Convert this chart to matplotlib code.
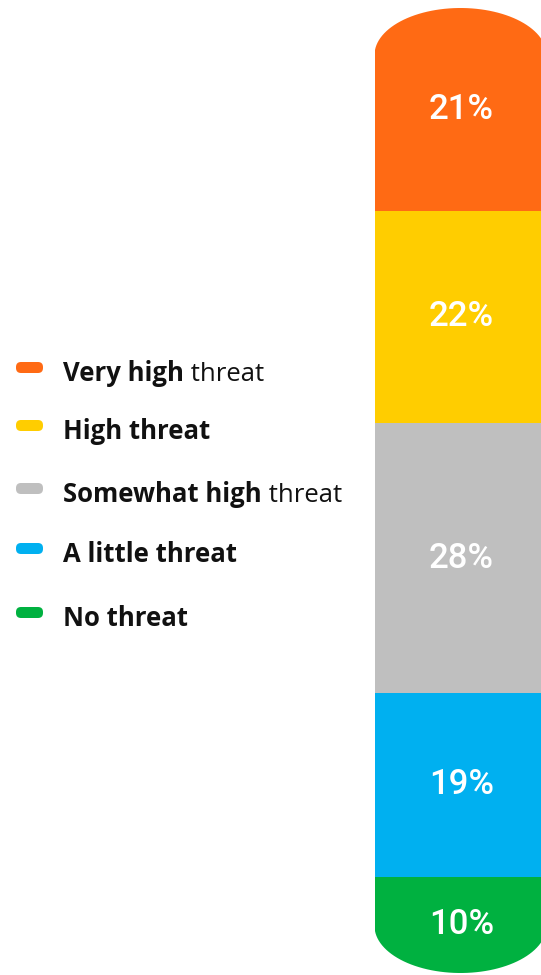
import numpy as np
import matplotlib
matplotlib.use("Agg")
import matplotlib.pyplot as plt
from matplotlib.patches import FancyBboxPatch, PathPatch
from matplotlib.path import Path

# data (top of the bar to bottom)
bold_parts = ["Very high", "High threat", "Somewhat high", "A little threat", "No threat"]
light_parts = [" threat", "", " threat", "", ""]
values = [21, 22, 28, 19, 10]
colors = ["#FF6A14", "#FFCD00", "#BFBFBF", "#00B0F0", "#00B140"]

W, H = 541, 975
fig = plt.figure(figsize=(W / 100, H / 100), dpi=100)

# bar axes: x in pixels, y in percent (0 at bottom, 100 at top)
ax = fig.add_axes([0, 0, 1, 1])
px = 100 / 965
ax.set_xlim(0, W)
ax.set_ylim(-2 * px, 100 + 8 * px)
ax.axis("off")

x_left, bar_w = 374.5, 172
xc = x_left + bar_w / 2

# capsule outline with elliptical ends, used to clip the stacked bars
rx = bar_w / 2
ry = 47 * px
th = np.linspace(0, np.pi, 60)
top = np.column_stack([xc + rx * np.cos(th), 100 - ry + ry * np.sin(th)])
bot = np.column_stack([xc - rx * np.cos(th), ry - ry * np.sin(th)])
verts = np.vstack([top, bot, top[:1]])
shape = PathPatch(Path(verts, closed=True), facecolor="none", edgecolor="none")
ax.add_patch(shape)

vals = np.array(values[::-1])
cols = colors[::-1]
bottoms = np.concatenate([[0], np.cumsum(vals)[:-1]])
bars = ax.bar([xc] * len(vals), vals, bottom=bottoms, width=bar_w,
              color=cols, linewidth=0)
for b in bars:
    b.set_clip_path(shape)

for v, b0 in zip(vals, bottoms):
    ax.text(xc + 1, b0 + v / 2, "%d%%" % v, color="white", fontsize=25,
            fontweight="medium", family="Roboto", ha="center", va="center")

# legend axes in pixel coords
lax = fig.add_axes([0, 0, 1, 1])
lax.set_xlim(0, W)
lax.set_ylim(H, 0)
lax.axis("off")

row_y = [372, 430, 493, 553, 617]
renderer = fig.canvas.get_renderer()
for bp, lp, c, y in zip(bold_parts, light_parts, colors, row_y):
    lax.add_patch(FancyBboxPatch((16, y - 10), 27, 11,
                                 boxstyle="round,pad=0,rounding_size=5",
                                 facecolor=c, edgecolor="none"))
    t = lax.text(63, y + 9, bp, fontsize=18.5, fontweight="bold",
                 family="Open Sans", color="#111111", va="baseline", ha="left")
    if lp:
        ext = t.get_window_extent(renderer)
        x1 = lax.transData.inverted().transform((ext.x1, ext.y0))[0]
        lax.text(x1, y + 9, lp, fontsize=18.5, family="Open Sans",
                 color="#111111", va="baseline", ha="left")

fig.savefig("out.png", dpi=100)
